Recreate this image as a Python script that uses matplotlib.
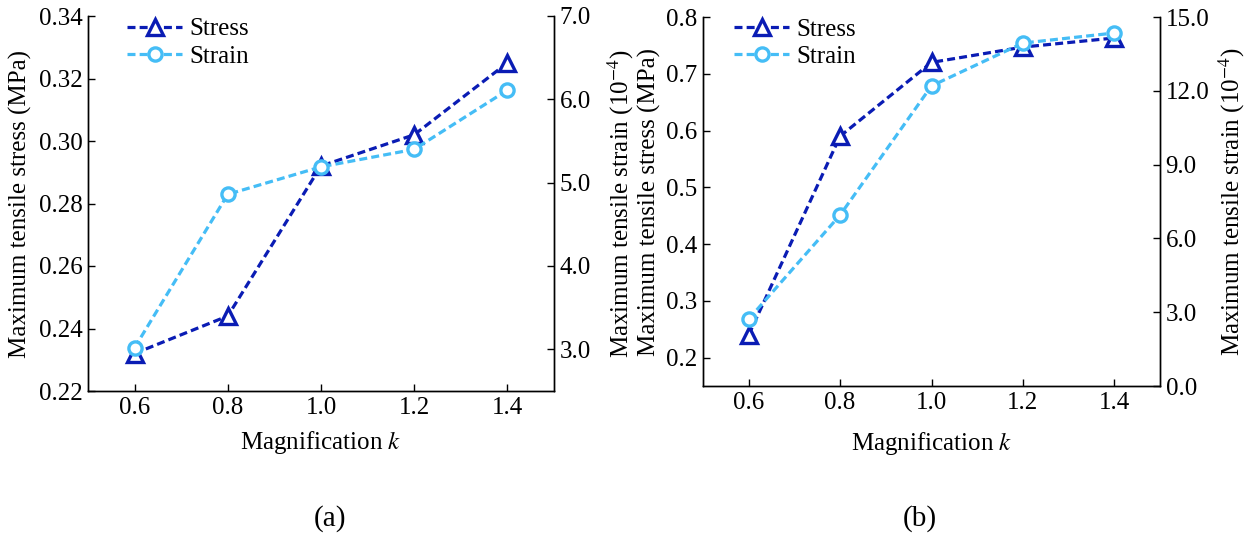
import numpy as np
import matplotlib
matplotlib.use("Agg")
import matplotlib.pyplot as plt
from matplotlib.lines import Line2D

plt.rcParams['font.family'] = ['Liberation Serif', 'DejaVu Serif']
plt.rcParams['mathtext.fontset'] = 'stix'
plt.rcParams['font.size'] = 18

# data
k = [0.6, 0.8, 1.0, 1.2, 1.4]
stress_a = [0.232, 0.244, 0.292, 0.302, 0.325]
strain_a = [3.02, 4.86, 5.19, 5.40, 6.11]
stress_b = [0.24, 0.59, 0.72, 0.747, 0.763]
strain_b = [2.72, 6.95, 12.2, 13.94, 14.35]

c_stress = '#0a1cb4'
c_strain = '#45bdf6'
FS = 18

fig = plt.figure(figsize=(12.51, 5.38), dpi=100)
ax1 = fig.add_axes([88/1251, 1-391/538, 466/1251, 375/538])
ax2 = fig.add_axes([703/1251, 1-386/538, 457/1251, 369/538])


def draw(ax, stress, strain, ylim1, yt1, ylim2, yt2, fmt1, lab_l, lab_r, leg_xy):
    axr = ax.twinx()
    ax.plot(k, stress, color=c_stress, lw=2.3, dashes=(2.5, 1.3), marker='^',
            ms=11, mfc='white', mec=c_stress, mew=2.4, zorder=3)
    axr.plot(k, strain, color=c_strain, lw=2.3, dashes=(2.5, 1.3), marker='o',
             ms=9.5, mfc='white', mec=c_strain, mew=2.4, zorder=3)
    ax.set_xlim(0.5, 1.5)
    ax.set_xticks(k)
    ax.set_xticklabels(['%.1f' % v for v in k])
    ax.set_ylim(*ylim1)
    ax.set_yticks(yt1)
    ax.set_yticklabels([fmt1 % v for v in yt1])
    axr.set_ylim(*ylim2)
    axr.set_yticks(yt2)
    axr.set_yticklabels(['%.1f' % v for v in yt2])
    for a in (ax, axr):
        a.tick_params(direction='in', length=5, width=1, pad=4, labelsize=FS)
        for s in a.spines.values():
            s.set_linewidth(1.0)
    ax.spines['top'].set_visible(False)
    axr.spines['top'].set_visible(False)
    ax.set_xlabel('Magnification $\\mathit{k}$', fontsize=FS)
    ax.set_ylabel(lab_l, fontsize=FS)
    axr.set_ylabel(lab_r, fontsize=FS)
    h = [Line2D([], [], color=c_stress, lw=2.3, dashes=(2.5, 1.3), marker='^', ms=11,
                mfc='white', mec=c_stress, mew=2.4),
         Line2D([], [], color=c_strain, lw=2.3, dashes=(2.5, 1.3), marker='o', ms=9.5,
                mfc='white', mec=c_strain, mew=2.4)]
    axr.legend(h, ['Stress', 'Strain'], loc='upper left', bbox_to_anchor=leg_xy,
               frameon=False, borderpad=0, borderaxespad=0, handlelength=2.2,
               handletextpad=0.3, labelspacing=0.2, fontsize=FS)
    return axr


axr1 = draw(ax1, stress_a, strain_a, (0.22, 0.34), np.arange(0.22, 0.341, 0.02),
            (2.5, 7.0), [3.0, 4.0, 5.0, 6.0, 7.0], '%.2f',
            'Maximum tensile stress (MPa)', 'Maximum tensile strain (10$^{-4}$)',
            (0.084, 0.995))
axr2 = draw(ax2, stress_b, strain_b, (0.15, 0.8), np.arange(0.2, 0.81, 0.1),
            (0.0, 15.0), [0.0, 3.0, 6.0, 9.0, 12.0, 15.0], '%.1f',
            'Maximum tensile stress (MPa)', 'Maximum tensile strain (10$^{-4}$)',
            (0.068, 0.997))

ax1.yaxis.set_label_coords(-0.120, 0.5)
axr1.yaxis.set_label_coords(1.11, 0.5)
ax2.yaxis.set_label_coords(-0.092, 0.5)
axr2.yaxis.set_label_coords(1.125, 0.5)
ax1.xaxis.set_label_coords(0.5, -0.102)
ax2.xaxis.set_label_coords(0.5, -0.118)

fig.text(330/1251, 1-519/538, '(a)', ha='center', va='center', fontsize=21)
fig.text(920/1251, 1-519/538, '(b)', ha='center', va='center', fontsize=21)

fig.savefig('out.png', dpi=100)
